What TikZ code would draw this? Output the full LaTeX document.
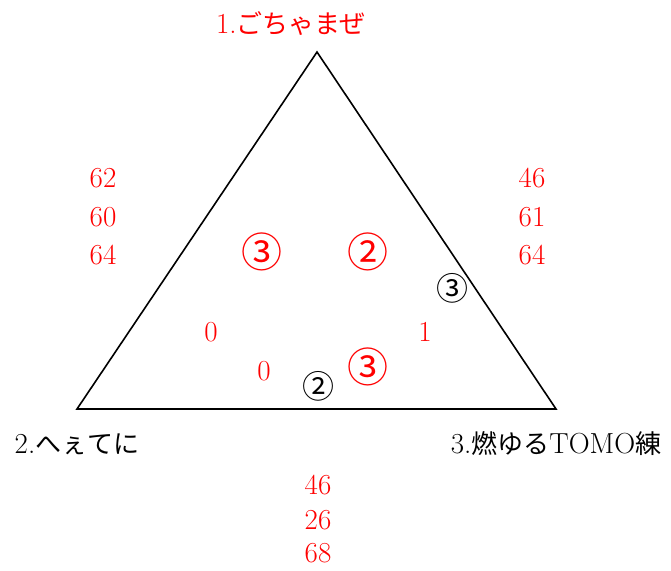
\documentclass[tikz,border=0pt]{standalone}
\usepackage{fontspec}
\newfontfamily\jp{Noto Sans CJK JP}
\newcommand{\numsize}{\fontsize{29}{31}\selectfont}
\newcommand{\jpk}[1]{{\jp\fontsize{26}{30}\selectfont #1}}
\tikzset{
  num/.style={text=red, font=\numsize, inner sep=0pt, anchor=base},
  lbl/.style={font=\numsize, inner sep=0pt, anchor=base},
  bigc/.style={text=red, font=\jp\fontsize{41}{43}\selectfont, inner sep=0pt},
  smallc/.style={text=black, font=\jp\fontsize{32}{34}\selectfont, inner sep=0pt},
  tri/.style={draw=black, line width=1.6pt, line join=miter}
}
\begin{document}
\begin{tikzpicture}[x=1pt,y=-1pt]
\useasboundingbox (0,0) rectangle (671,570);
\coordinate (A) at (317,52);
\coordinate (B) at (77,409);
\coordinate (C) at (556,409);
\draw[tri] (A) -- (B) -- (C) -- cycle;
% vertex labels
\node[lbl, text=red] (la) at (291,33) {1.\jpk{ごちゃまぜ}};
\node[lbl] (lb) at (77,453) {2.\jpk{へぇてに}};
\node[lbl] (lc) at (556,453) {3.\jpk{燃ゆる}TOMO\jpk{練}};
% left numbers
\node[num] (l1) at (103,187) {62};
\node[num] (l2) at (103,226) {60};
\node[num] (l3) at (103,264) {64};
% right numbers
\node[num] (r1) at (532,187) {46};
\node[num] (r2) at (532,226) {61};
\node[num] (r3) at (532,264) {64};
% bottom numbers
\node[num] (b1) at (318,494) {46};
\node[num] (b2) at (318,529) {26};
\node[num] (b3) at (318,562) {68};
% interior
\node[bigc] (c1) at (262,252) {③};
\node[bigc] (c2) at (368,252) {②};
\node[smallc] (c3) at (452,288) {③};
\node[num] (z1) at (211,341) {0};
\node[num] (o1) at (425,341) {1};
\node[num] (z2) at (264,380) {0};
\node[smallc] (c4) at (318,386) {②};
\node[bigc] (c5) at (368,367) {③};
\end{tikzpicture}
\end{document}
